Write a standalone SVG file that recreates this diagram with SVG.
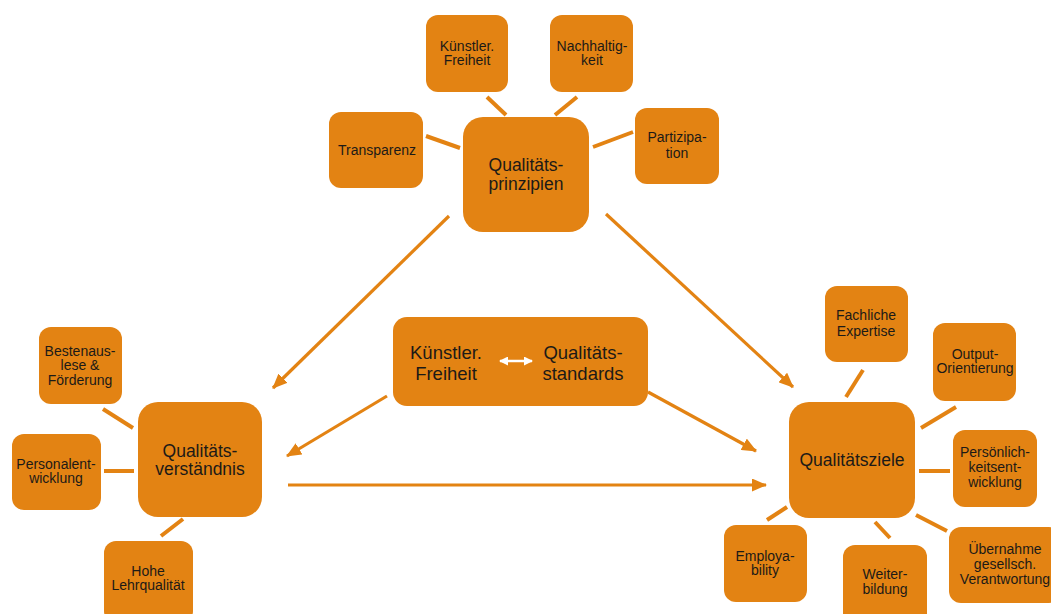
<svg xmlns="http://www.w3.org/2000/svg" width="1051" height="614" viewBox="0 0 1051 614">
<style>
.box{fill:#E38313;}
.t{font-family:"Liberation Sans","Arial",sans-serif;font-size:14px;fill:#1c1a17;text-anchor:middle;}
.tl{font-family:"Liberation Sans","Arial",sans-serif;font-size:17.5px;fill:#1c1a17;text-anchor:middle;}
.tc{font-family:"Liberation Sans","Arial",sans-serif;font-size:18.5px;fill:#1c1a17;text-anchor:middle;}
.link{stroke:#E38313;stroke-width:4;fill:none;}
.arr{stroke:#E38313;stroke-width:3.2;fill:none;marker-end:url(#head);}
</style>
<defs>
<marker id="head" markerUnits="userSpaceOnUse" markerWidth="15" markerHeight="13" refX="14" refY="6.5" orient="auto">
<path d="M0,0 L15,6.5 L0,13 Z" fill="#E38313"/>
</marker>
<marker id="whead" markerUnits="userSpaceOnUse" markerWidth="9" markerHeight="9" refX="8" refY="4.5" orient="auto-start-reverse">
<path d="M0,0 L9,4.5 L0,9 Z" fill="#ffffff"/>
</marker>
</defs>
<rect width="1051" height="614" fill="#ffffff"/>

<g id="connectors">
<line class="link" x1="487" y1="97" x2="506" y2="115"/>
<line class="link" x1="577" y1="97" x2="555" y2="115"/>
<line class="link" x1="426" y1="136" x2="460" y2="148"/>
<line class="link" x1="633" y1="132" x2="593" y2="147"/>
<line class="link" x1="103" y1="409" x2="133" y2="428"/>
<line class="link" x1="104" y1="471" x2="134" y2="471"/>
<line class="link" x1="161" y1="536" x2="183" y2="519"/>
<line class="link" x1="863" y1="370" x2="846" y2="397"/>
<line class="link" x1="956" y1="407" x2="921" y2="428"/>
<line class="link" x1="919" y1="471" x2="950" y2="471"/>
<line class="link" x1="916" y1="515" x2="947" y2="531"/>
<line class="link" x1="875" y1="522" x2="890" y2="538"/>
<line class="link" x1="787" y1="507" x2="767" y2="520"/>
<line class="arr" x1="449" y1="216" x2="273" y2="388"/>
<line class="arr" x1="606" y1="214" x2="793" y2="387"/>
<line class="arr" x1="387" y1="396" x2="287" y2="456"/>
<line class="arr" x1="648" y1="392" x2="756" y2="451"/>
<line class="arr" x1="288" y1="485" x2="766" y2="485"/>
</g>

<g id="n-kuenstler-top">
<rect class="box" x="426" y="15" width="82" height="77" rx="12"/>
<text class="t" x="467" y="51">Künstler.</text>
<text class="t" x="467" y="65">Freiheit</text>
</g>
<g id="n-nachhaltigkeit">
<rect class="box" x="550" y="15" width="83" height="77" rx="12"/>
<text class="t" x="592" y="51">Nachhaltig-</text>
<text class="t" x="592" y="65">keit</text>
</g>
<g id="n-transparenz">
<rect class="box" x="329" y="112" width="94" height="76" rx="12"/>
<text class="t" x="377" y="155">Transparenz</text>
</g>
<g id="n-partizipation">
<rect class="box" x="635" y="108" width="84" height="76" rx="12"/>
<text class="t" x="677" y="142">Partizipa-</text>
<text class="t" x="677" y="158">tion</text>
</g>
<g id="n-prinzipien">
<rect class="box" x="463" y="117" width="126" height="115" rx="20"/>
<text class="tl" x="526" y="171">Qualitäts-</text>
<text class="tl" x="526" y="190">prinzipien</text>
</g>

<g id="n-bestenauslese">
<rect class="box" x="39" y="327" width="83" height="77" rx="12"/>
<text class="t" x="80" y="356">Bestenaus-</text>
<text class="t" x="80" y="370">lese &amp;</text>
<text class="t" x="80" y="385">Förderung</text>
</g>
<g id="n-personal">
<rect class="box" x="12" y="434" width="89" height="76" rx="12"/>
<text class="t" x="56" y="469">Personalent-</text>
<text class="t" x="56" y="483">wicklung</text>
</g>
<g id="n-lehrqualitaet">
<rect class="box" x="104" y="541" width="89" height="82" rx="12"/>
<text class="t" x="148" y="576">Hohe</text>
<text class="t" x="148" y="590">Lehrqualität</text>
</g>
<g id="n-verstaendnis">
<rect class="box" x="138" y="402" width="124" height="115" rx="20"/>
<text class="tl" x="200" y="457">Qualitäts-</text>
<text class="tl" x="200" y="475">verständnis</text>
</g>

<g id="n-center">
<rect class="box" x="393" y="317" width="255" height="89" rx="14"/>
<text class="tc" x="446" y="359">Künstler.</text>
<text class="tc" x="446" y="380">Freiheit</text>
<text class="tc" x="583" y="359">Qualitäts-</text>
<text class="tc" x="583" y="380">standards</text>
<line x1="500" y1="361" x2="532" y2="361" stroke="#ffffff" stroke-width="2.5" marker-start="url(#whead)" marker-end="url(#whead)"/>
</g>

<g id="n-fachlich">
<rect class="box" x="825" y="286" width="83" height="76" rx="12"/>
<text class="t" x="866" y="320">Fachliche</text>
<text class="t" x="866" y="336">Expertise</text>
</g>
<g id="n-output">
<rect class="box" x="933" y="323" width="83" height="78" rx="12"/>
<text class="t" x="975" y="359">Output-</text>
<text class="t" x="975" y="373">Orientierung</text>
</g>
<g id="n-persoenlich">
<rect class="box" x="953" y="430" width="84" height="77" rx="12"/>
<text class="t" x="995" y="457">Persönlich-</text>
<text class="t" x="995" y="472">keitsent-</text>
<text class="t" x="995" y="487">wicklung</text>
</g>
<g id="n-uebernahme">
<rect class="box" x="949" y="527" width="112" height="76" rx="12"/>
<text class="t" x="1005" y="554">Übernahme</text>
<text class="t" x="1005" y="569">gesellsch.</text>
<text class="t" x="1005" y="584">Verantwortung</text>
</g>
<g id="n-weiterbildung">
<rect class="box" x="843" y="545" width="84" height="80" rx="12"/>
<text class="t" x="885" y="579">Weiter-</text>
<text class="t" x="885" y="594">bildung</text>
</g>
<g id="n-employability">
<rect class="box" x="724" y="525" width="83" height="77" rx="12"/>
<text class="t" x="765" y="561">Employa-</text>
<text class="t" x="765" y="575">bility</text>
</g>
<g id="n-ziele">
<rect class="box" x="789" y="402" width="126" height="116" rx="20"/>
<text class="tl" x="852" y="466">Qualitätsziele</text>
</g>
</svg>
